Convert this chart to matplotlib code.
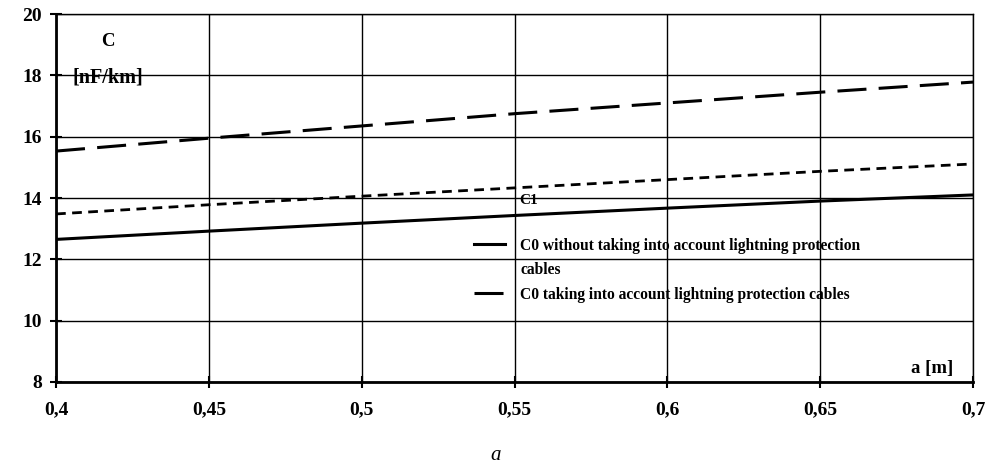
import matplotlib.pyplot as plt
from matplotlib.ticker import FuncFormatter
from matplotlib.lines import Line2D

# distance a [m]
a = [0.40, 0.45, 0.50, 0.55, 0.60, 0.65, 0.70]
# capacitance [nF/km]
c0_without = [12.65, 12.92, 13.18, 13.43, 13.67, 13.90, 14.10]
c0_with = [15.53, 15.95, 16.35, 16.75, 17.10, 17.45, 17.78]
c1 = [13.48, 13.78, 14.06, 14.33, 14.60, 14.87, 15.11]

plt.rcParams['font.family'] = ['Liberation Serif', 'DejaVu Serif']
plt.rcParams['font.weight'] = 'bold'

fig = plt.figure(figsize=(9.92, 4.72), dpi=100)
ax = fig.add_axes([0.0565, 0.1907, 0.9245, 0.7796])

ax.plot(a, c0_without, color='black', lw=2.2, solid_capstyle='butt')
ax.plot(a, c0_with, color='black', lw=2.2, dashes=(9.5, 4))
ax.plot(a, c1, color='black', lw=2.0, dashes=(3.5, 2.3))

ax.set_xlim(0.4, 0.7)
ax.set_ylim(8, 20)
ax.set_xticks([0.4, 0.45, 0.5, 0.55, 0.6, 0.65, 0.7])
ax.set_yticks([8, 10, 12, 14, 16, 18, 20])
ax.xaxis.set_major_formatter(FuncFormatter(lambda v, p: ('%g' % v).replace('.', ',')))
ax.grid(True, color='black', lw=1.0)
ax.tick_params(direction='inout', length=8, width=1.5, labelsize=14)
ax.tick_params(axis='x', pad=10)
ax.tick_params(axis='y', pad=6)
for lab in ax.get_xticklabels() + ax.get_yticklabels():
    lab.set_fontweight('bold')
for side in ['left', 'bottom']:
    ax.spines[side].set_linewidth(2)
for side in ['top', 'right']:
    ax.spines[side].set_linewidth(1)

ax.text(0.4168, 18.95, 'C', fontsize=13.5, fontweight='bold', ha='center')
ax.text(0.4053, 17.78, '[nF/km]', fontsize=14.5, fontweight='bold', ha='left')
ax.text(0.6935, 8.3, 'a [m]', fontsize=13.5, fontweight='bold', ha='right')
ax.text(0.5515, 13.82, 'C1', fontsize=11, ha='left')

# legend: the wrapped second line of the first entry sits under its text
handles = [Line2D([], [], color='black', lw=2.2),
           Line2D([], [], linestyle='none'),
           Line2D([], [], color='black', lw=2.2, dashes=(9.5, 4))]
labels = ['C0 without taking into account lightning protection',
          'cables',
          'C0 taking into account lightning protection cables']
ax.legend(handles, labels, loc='upper left', bbox_to_anchor=(0.44, 0.43),
          frameon=False, handlelength=2.0, handletextpad=1.0,
          labelspacing=0.55, prop={'weight': 'bold', 'size': 11.2})

fig.text(0.5, 0.025, 'a', fontsize=15, style='italic', fontweight='normal', ha='center')

fig.savefig('out.png', dpi=100)
